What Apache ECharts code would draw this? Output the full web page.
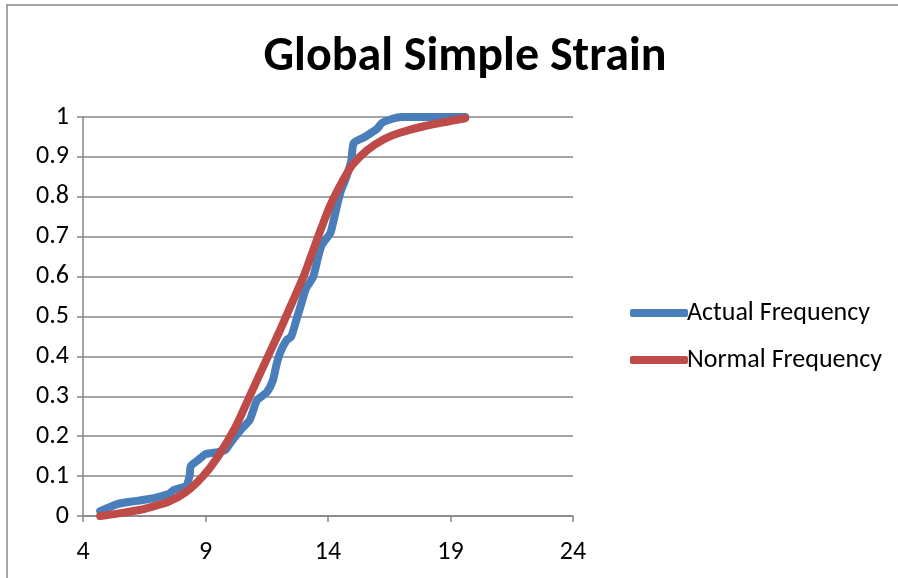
<!DOCTYPE html>
<html>
  <head>
    <meta charset="utf-8" />
    <title>Global Simple Strain</title>
    <script src="https://cdn.jsdelivr.net/npm/echarts@6.0.0/dist/echarts.min.js"></script>
    <style>
      body { margin: 0; background: #fff; }
    </style>
  </head>
  <body>
    <div id="main" style="width: 898px; height: 578px"></div>
    <script type="text/javascript">
      // values
      var actualFrequency = [
        [4.7, 0.012], [5.4, 0.03], [6.2, 0.038], [6.9, 0.045], [7.5, 0.055],
        [7.7, 0.065], [8.2, 0.075], [8.35, 0.1], [8.4, 0.125], [8.7, 0.14],
        [9.0, 0.155], [9.5, 0.16], [9.8, 0.165], [10.1, 0.19], [10.5, 0.22],
        [10.8, 0.24], [10.95, 0.265], [11.1, 0.29], [11.5, 0.31], [11.75, 0.34],
        [11.9, 0.38], [12.05, 0.41], [12.3, 0.44], [12.5, 0.45], [12.7, 0.49],
        [12.9, 0.53], [13.1, 0.57], [13.4, 0.6], [13.6, 0.65], [13.75, 0.68],
        [14.1, 0.71], [14.3, 0.76], [14.5, 0.81], [14.75, 0.85], [14.95, 0.89],
        [15.05, 0.935], [15.5, 0.95], [16.0, 0.97], [16.2, 0.985], [16.6, 0.995],
        [17.0, 1.0], [19.6, 1.0]
      ];
      var normalFrequency = [
        [4.7, 0], [5.4, 0.006], [6.3, 0.015], [6.8, 0.023], [7.5, 0.036],
        [8.2, 0.06], [8.9, 0.1], [9.5, 0.148], [10.2, 0.22], [10.8, 0.3],
        [11.4, 0.38], [12.0, 0.46], [12.5, 0.53], [13.0, 0.6], [13.3, 0.65],
        [13.7, 0.717], [14.1, 0.78], [14.6, 0.84], [15.0, 0.88], [15.6, 0.917],
        [16.3, 0.945], [16.9, 0.96], [18.0, 0.978], [19.6, 0.997]
      ];
      var xTicks = [4, 9, 14, 19, 24];

      var font = 'Carlito, "Liberation Sans Narrow", "Open Sans", sans-serif';
      var axisGray = "#868686";

      var myChart = echarts.init(document.getElementById("main"));

      var option = {
        backgroundColor: "#fff",
        animation: false,
        title: {
          text: "Global Simple Strain",
          left: 460,
          textAlign: "center",
          top: 29,
          textStyle: { fontFamily: font, fontSize: 48, fontWeight: "bold", color: "#000" }
        },
        graphic: [
          {
            type: "rect",
            shape: { x: 7, y: 5, width: 900, height: 600 },
            style: { fill: null, stroke: axisGray, lineWidth: 1.5 },
            silent: true
          }
        ],
        legend: {
          orient: "vertical",
          left: 625,
          top: 295,
          itemWidth: 58,
          itemHeight: 8,
          itemGap: 21,
          icon: "roundRect",
          textStyle: { fontFamily: font, fontSize: 26, color: "#000", padding: [0, 0, 0, -6] },
          data: ["Actual Frequency", "Normal Frequency"]
        },
        grid: { left: 83, top: 117, width: 490, height: 399, containLabel: false },
        xAxis: {
          type: "value",
          min: 4,
          max: 24,
          axisLine: { onZero: false, lineStyle: { color: axisGray, width: 1.5 } },
          axisTick: { show: true, length: 6, customValues: xTicks, lineStyle: { color: axisGray, width: 1.5 } },
          axisLabel: { customValues: xTicks, margin: 23, fontFamily: font, fontSize: 26, color: "#000" },
          splitLine: { show: false }
        },
        yAxis: {
          type: "value",
          min: 0,
          max: 1,
          interval: 0.1,
          axisLine: { show: true, lineStyle: { color: axisGray, width: 1.5 } },
          axisTick: { show: true, length: 6, lineStyle: { color: axisGray, width: 1.5 } },
          axisLabel: { margin: 14, fontFamily: font, fontSize: 26, color: "#000" },
          splitLine: { show: true, lineStyle: { color: axisGray, width: 1.5 } }
        },
        series: [
          {
            name: "Actual Frequency",
            type: "line",
            data: actualFrequency,
            smooth: 0.2,
            showSymbol: false,
            symbol: "none",
            color: "#4a7ebb",
            lineStyle: { width: 8, color: "#4a7ebb", cap: "round", join: "round" }
          },
          {
            name: "Normal Frequency",
            type: "line",
            data: normalFrequency,
            smooth: 0.3,
            showSymbol: false,
            symbol: "none",
            color: "#be4b48",
            lineStyle: { width: 8, color: "#be4b48", cap: "round", join: "round" }
          }
        ]
      };

      myChart.setOption(option);
    </script>
  </body>
</html>
